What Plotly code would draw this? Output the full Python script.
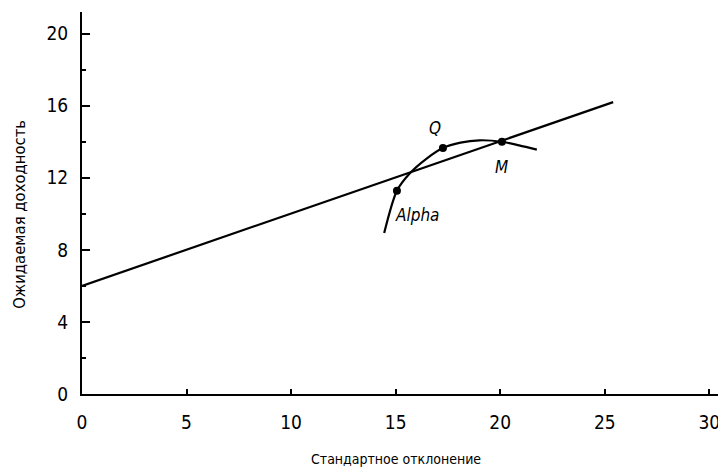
import plotly.graph_objects as go

# Capital market line
cml_x = [0, 25.4]
cml_y = [6.0, 16.2]

# Efficient frontier curve
curve_x = [14.45, 15.06, 15.69, 16.45, 17.26, 18.1, 19.0, 20.08, 20.9, 21.75]
curve_y = [8.93, 11.28, 12.26, 13.04, 13.65, 13.95, 14.08, 14.0, 13.8, 13.56]

# Labelled points
pt_names = ["Alpha", "Q", "M"]
pt_x = [15.06, 17.26, 20.08]
pt_y = [11.28, 13.65, 14.0]

x_ticks = [0, 5, 10, 15, 20, 25, 30]
y_ticks = [0, 4, 8, 12, 16, 20]

x_title = "Стандартное отклонение"
y_title = "Ожидаемая доходность"

COND = "DejaVu Sans Condensed, Liberation Sans Narrow, sans-serif"

fig = go.Figure()
fig.add_trace(go.Scatter(x=cml_x, y=cml_y, mode="lines",
                         line=dict(color="black", width=2.2), showlegend=False))
fig.add_trace(go.Scatter(x=curve_x, y=curve_y, mode="lines",
                         line=dict(color="black", width=2.2, shape="spline", smoothing=0.8),
                         showlegend=False))
fig.add_trace(go.Scatter(x=pt_x, y=pt_y, mode="markers",
                         marker=dict(color="black", size=8), showlegend=False))

offsets = {"Alpha": (21, -24), "Q": (-8, 20), "M": (0, -25)}
for n, x, y in zip(pt_names, pt_x, pt_y):
    dx, dy = offsets[n]
    fig.add_annotation(x=x, y=y, text=f"<i>{n}</i>", showarrow=False,
                       xshift=dx, yshift=dy,
                       font=dict(family=COND, size=17, color="black"))

# Axis titles
fig.add_annotation(xref="paper", yref="paper", x=0.489, y=0, yshift=-65,
                   xanchor="center", yanchor="middle", showarrow=False,
                   text=x_title, font=dict(family=COND, size=14, color="black"))
fig.add_annotation(xref="paper", yref="paper", x=0, xshift=-62, y=0.469,
                   xanchor="center", yanchor="middle", showarrow=False, textangle=-90,
                   text=y_title, font=dict(family=COND, size=16.5, color="black"))

fig.update_layout(
    width=726, height=471,
    margin=dict(l=74, r=10, t=4, b=85),
    plot_bgcolor="white", paper_bgcolor="white",
    xaxis=dict(range=[0, 30.7], tickvals=x_ticks, ticktext=[str(v) for v in x_ticks],
               automargin=False, ticklabelstandoff=10,
               ticks="inside", ticklen=5, tickwidth=1.5, tickcolor="black",
               showline=True, linecolor="black", linewidth=2, showgrid=False, zeroline=False,
               tickfont=dict(family=COND, size=19, color="black")),
    yaxis=dict(range=[0, 21.2], tickvals=y_ticks, ticktext=[str(v) for v in y_ticks],
               automargin=False, ticklabelstandoff=8,
               ticks="inside", ticklen=8, tickwidth=1.5, tickcolor="black",
               minor=dict(dtick=2, ticks="inside", ticklen=4, tickcolor="black"),
               showline=True, linecolor="black", linewidth=2, showgrid=False, zeroline=False,
               tickfont=dict(family=COND, size=19, color="black")),
)

fig.write_html("out.html")
